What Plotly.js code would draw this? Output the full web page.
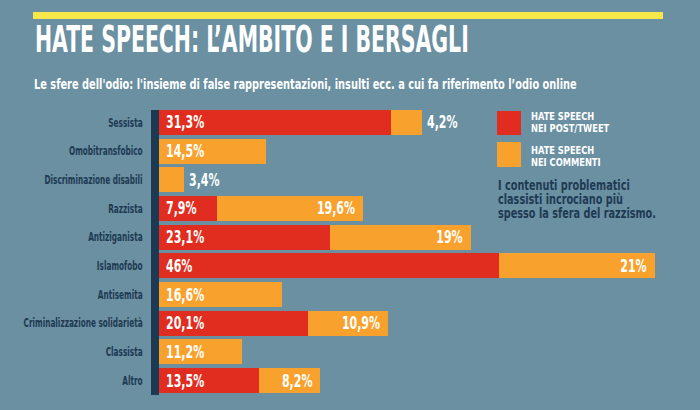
<!DOCTYPE html>
<html>
<head>
<meta charset="utf-8">
<script src="https://cdn.plot.ly/plotly-3.0.1.min.js"></script>
<style>
  html, body { margin: 0; padding: 0; background: #6a90a2; }
  #chart { width: 700px; height: 410px; }
</style>
</head>
<body>
<div id="chart"></div>
<script>
// ---- data ----
const categories = ["Sessista", "Omobitransfobico", "Discriminazione disabili", "Razzista", "Antiziganista",
  "Islamofobo", "Antisemita", "Criminalizzazione solidarietà", "Classista", "Altro"];
const postTweet = [31.3, null, null, 7.9, 23.1, 46, null, 20.1, null, 13.5];
const commenti = [4.2, 14.5, 3.4, 19.6, 19, 21, 16.6, 10.9, 11.2, 8.2];
const seriesNames = ["HATE SPEECH<br>NEI POST/TWEET", "HATE SPEECH<br>NEI COMMENTI"];
const titleText = "HATE SPEECH: L’AMBITO E I BERSAGLI";
const subtitleText = "Le sfere dell'odio: l'insieme di false rappresentazioni, insulti ecc. a cui fa riferimento l’odio online";
const noteText = "I contenuti problematici<br>classisti incrociano più<br>spesso la sfera del razzismo.";

// ---- styling ----
const FONT = "'DejaVu Sans Condensed', 'DejaVu Sans', sans-serif";
const RED = "#e02d1f", ORANGE = "#f9a12d", BG = "#6a90a2", NAVY = "#1e3a52", YELLOW = "#f6e84a";
const fmt = v => String(v).replace(".", ",") + "%";

// plot area geometry (pixels)
const L = 159, R = 700, T = 108, B = 395;
const px = x => (x - L) / (R - L);
const py = y => (B - y) / (B - T);

const stackedCommenti = commenti.map((v, i) => postTweet[i] !== null ? v : null);
const aloneCommenti = commenti.map((v, i) => postTweet[i] === null ? v : null);

const traces = [
  {type: "bar", orientation: "h", y: categories, x: postTweet, name: seriesNames[0],
    marker: {color: RED, line: {width: 0}}, hoverinfo: "x+y"},
  {type: "bar", orientation: "h", y: categories, x: stackedCommenti, name: seriesNames[1],
    marker: {color: ORANGE, line: {width: 0}}, hoverinfo: "x+y"},
  {type: "bar", orientation: "h", y: categories, x: aloneCommenti, name: seriesNames[1],
    marker: {color: ORANGE, line: {width: 0}}, hoverinfo: "x+y"}
];

// annotations + per-annotation horizontal condensing
// fit = {w: target px width} or {f: factor}; optional lines = {baseline, pitch} for multi-line blocks
const annotations = [];
const fits = [];
function addAnn(a, fit) { annotations.push(Object.assign({showarrow: false, align: "left", borderpad: 0}, a)); fits.push(fit); }

addAnn({text: titleText, xref: "paper", yref: "paper", x: px(34), y: py(38.5), xanchor: "left", yanchor: "middle",
  font: {family: FONT, size: 38, color: "white", weight: "bold"}}, {w: 434});
addAnn({text: subtitleText, xref: "paper", yref: "paper", x: px(33), y: py(84), xanchor: "left", yanchor: "middle",
  font: {family: FONT, size: 14, color: "white", weight: "bold"}}, {w: 543});

// legend texts
const legendBase = [120, 154.3];
seriesNames.forEach((nm, s) => {
  addAnn({text: nm, xref: "paper", yref: "paper", x: px(530), y: py(legendBase[s] - 8), xanchor: "left", yanchor: "middle",
    font: {family: FONT, size: 10.5, color: "white", weight: "bold"}}, {f: 0.88, lines: {baseline: legendBase[s], pitch: 11.6}});
});
// note text
addAnn({text: noteText, xref: "paper", yref: "paper", x: px(497), y: py(200), xanchor: "left", yanchor: "middle",
  font: {family: FONT, size: 13.5, color: NAVY, weight: "bold"}}, {f: 0.8, lines: {baseline: 190, pitch: 14.2}});

// value labels, placed through the data axes
const labelFont = {family: FONT, size: 17, color: "white", weight: "bold"};
const LF = {f: 0.72};
categories.forEach((c, i) => {
  const p = postTweet[i], m = commenti[i];
  if (p !== null) {
    addAnn({text: fmt(p), xref: "x", yref: "y", x: 0, y: c, xanchor: "left", yanchor: "middle", xshift: 6,
      font: labelFont}, LF);
  }
  const end = (p || 0) + m;
  if (m < 5) {
    addAnn({text: fmt(m), xref: "x", yref: "y", x: end, y: c, xanchor: "left", yanchor: "middle", xshift: 4,
      font: labelFont}, LF);
  } else if (p !== null) {
    addAnn({text: fmt(m), xref: "x", yref: "y", x: end, y: c, xanchor: "right", align: "right", yanchor: "middle", xshift: -7,
      font: labelFont}, LF);
  } else {
    addAnn({text: fmt(m), xref: "x", yref: "y", x: 0, y: c, xanchor: "left", yanchor: "middle", xshift: 6,
      font: labelFont}, LF);
  }
});

const layout = {
  width: 700, height: 410,
  paper_bgcolor: BG, plot_bgcolor: BG,
  margin: {l: L, r: 700 - R, t: T, b: 410 - B, pad: 0},
  barmode: "stack", bargap: 0.13,
  showlegend: false,
  font: {family: FONT},
  xaxis: {range: [0, (R - L) / 7.4], visible: false, fixedrange: true},
  yaxis: {
    type: "category", autorange: "reversed", showgrid: false, zeroline: false, showline: false,
    ticks: "outside", ticklen: 13, tickcolor: "rgba(0,0,0,0)",
    tickfont: {family: FONT, size: 12, color: NAVY, weight: "bold"}, fixedrange: true
  },
  shapes: [
    {type: "rect", xref: "paper", yref: "paper", x0: px(33), x1: px(663), y0: py(19), y1: py(12),
      fillcolor: YELLOW, line: {width: 0}},
    {type: "rect", xref: "paper", yref: "paper", x0: px(151), x1: px(159), y0: py(395), y1: py(110),
      fillcolor: NAVY, line: {width: 0}},
    {type: "rect", xref: "paper", yref: "paper", x0: px(497), x1: px(521), y0: py(135), y1: py(111),
      fillcolor: RED, line: {width: 0}},
    {type: "rect", xref: "paper", yref: "paper", x0: px(497), x1: px(521), y0: py(167), y1: py(142),
      fillcolor: ORANGE, line: {width: 0}}
  ],
  annotations: annotations
};

// tighten line spacing of a multi-line text so the first baseline sits at a page y
function setLines(textEl, spec) {
  const lines = Array.from(textEl.querySelectorAll("tspan.line"));
  if (!lines.length) return;
  const y0 = lines[0].getStartPositionOfChar(0).y;
  const ctm = textEl.getCTM();
  const svg = textEl.ownerSVGElement;
  const pt = svg.createSVGPoint();
  pt.x = 0; pt.y = y0;
  const pageY = pt.matrixTransform(ctm).y;
  const base = y0 + (spec.baseline - pageY);
  lines.forEach((t, k) => {
    t.removeAttribute("dy");
    t.setAttribute("y", (base + k * spec.pitch).toFixed(2));
  });
}

// compress a text element horizontally about its anchor x
function condenseEl(el, fit) {
  const w = el.getComputedTextLength();
  if (!w) return;
  const f = fit.w ? fit.w / w : fit.f;
  const ax = parseFloat(el.getAttribute("x")) || 0;
  const prev = el.getAttribute("transform") || "";
  el.setAttribute("transform", `${prev} translate(${ax},0) scale(${f.toFixed(4)},1) translate(${-ax},0)`.trim());
}

Plotly.newPlot("chart", traces, layout, {displayModeBar: false, staticPlot: true}).then(gd => {
  gd.querySelectorAll(".annotation").forEach(g => {
    const idx = +g.getAttribute("data-index");
    const txt = g.querySelector("text.annotation-text");
    const fit = fits[idx];
    if (!txt || !fit) return;
    if (fit.lines) setLines(txt, fit.lines);
    if (fit.w) {
      // single-line width target
      condenseEl(txt, fit);
    } else {
      condenseEl(txt, {f: fit.f});
    }
  });
  gd.querySelectorAll(".ytick text").forEach(t => condenseEl(t, {f: 0.68}));
});
</script>
</body>
</html>
